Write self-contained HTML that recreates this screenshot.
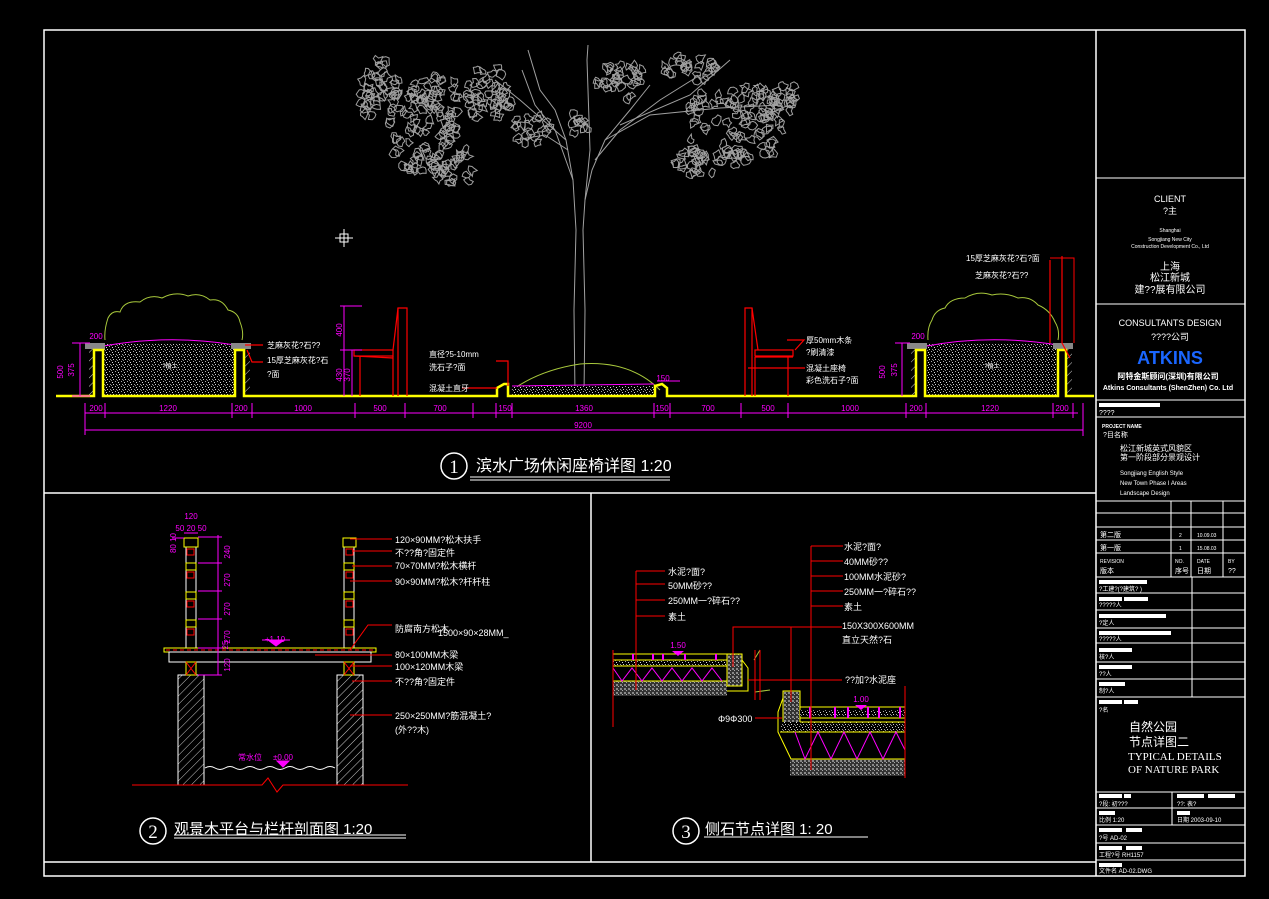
<!DOCTYPE html>
<html><head><meta charset="utf-8">
<style>
html,body{margin:0;padding:0;background:#000;}
svg{display:block}
text{font-family:"Liberation Sans","Noto Sans CJK SC",sans-serif;}
.w{fill:#fff}.m{fill:#ff00ff}
.s{font-family:"Liberation Serif","Noto Serif CJK SC",serif}
</style></head><body>
<svg id="s" width="1269" height="899" viewBox="0 0 1269 899" xmlns="http://www.w3.org/2000/svg">
<defs>
<pattern id="grav" width="6" height="5" patternUnits="userSpaceOnUse">
<rect width="6" height="5" fill="#000"/>
<rect x="1" y="1" width="1" height="1" fill="#aaa"/><rect x="4" y="2" width="1" height="1" fill="#ddd"/>
<rect x="2" y="4" width="1" height="1" fill="#999"/><rect x="5" y="4" width="1" height="1" fill="#ccc"/>
<rect x="3" y="0" width="1" height="1" fill="#888"/>
</pattern>
<pattern id="hat" width="6" height="6" patternUnits="userSpaceOnUse" patternTransform="rotate(45)">
<rect width="6" height="6" fill="#000"/><line x1="0" y1="0" x2="0" y2="6" stroke="#ccc" stroke-width="1"/>
</pattern>
<pattern id="dens" width="4" height="4" patternUnits="userSpaceOnUse">
<rect width="4" height="4" fill="#333"/><rect x="0" y="0" width="2" height="2" fill="#888"/><rect x="2" y="2" width="1" height="1" fill="#aaa"/>
</pattern>
</defs>
<rect width="1269" height="899" fill="#000"/>
<g fill="none" stroke="#fff" stroke-width="1.5">
<rect x="44" y="30" width="1201" height="846"/>
<line x1="1096" y1="30" x2="1096" y2="876"/>
<line x1="44" y1="493" x2="1096" y2="493"/>
<line x1="591" y1="493" x2="591" y2="862"/>
<line x1="44" y1="862" x2="1096" y2="862"/>
</g>
<g stroke="#fff" stroke-width="1" fill="none">
<line x1="1096" y1="178" x2="1245" y2="178"/><line x1="1096" y1="304" x2="1245" y2="304"/>
<line x1="1096" y1="400" x2="1245" y2="400"/><line x1="1096" y1="417" x2="1245" y2="417"/>
<line x1="1096" y1="501" x2="1245" y2="501"/><line x1="1096" y1="513" x2="1245" y2="513"/>
<line x1="1096" y1="527" x2="1245" y2="527"/><line x1="1096" y1="540" x2="1245" y2="540"/>
<line x1="1096" y1="553" x2="1245" y2="553"/><line x1="1096" y1="577" x2="1245" y2="577"/>
<line x1="1096" y1="593" x2="1245" y2="593"/><line x1="1096" y1="610" x2="1245" y2="610"/>
<line x1="1096" y1="628" x2="1245" y2="628"/><line x1="1096" y1="643" x2="1245" y2="643"/>
<line x1="1096" y1="662" x2="1245" y2="662"/><line x1="1096" y1="679" x2="1245" y2="679"/>
<line x1="1096" y1="697" x2="1245" y2="697"/><line x1="1096" y1="792" x2="1245" y2="792"/>
<line x1="1096" y1="808" x2="1245" y2="808"/><line x1="1096" y1="825" x2="1245" y2="825"/>
<line x1="1096" y1="843" x2="1245" y2="843"/><line x1="1096" y1="860" x2="1245" y2="860"/>
<line x1="1171" y1="501" x2="1171" y2="577"/><line x1="1191" y1="501" x2="1191" y2="577"/>
<line x1="1223" y1="501" x2="1223" y2="577"/><line x1="1192" y1="577" x2="1192" y2="697"/>
<line x1="1172" y1="792" x2="1172" y2="825"/>
</g>
<g class="w" text-anchor="middle">
<text x="1170" y="202" font-size="9">CLIENT</text>
<text x="1170" y="214" font-size="9">?主</text>
<text x="1170" y="232" font-size="5">Shanghai</text>
<text x="1170" y="241" font-size="5">Songjiang New City</text>
<text x="1170" y="248" font-size="5">Construction Development Co., Ltd</text>
<text x="1170" y="270" font-size="10">上海</text>
<text x="1170" y="281" font-size="10">松江新城</text>
<text x="1170" y="293" font-size="10">建??展有限公司</text>
<text x="1170" y="326" font-size="9">CONSULTANTS DESIGN</text>
<text x="1170" y="340" font-size="9">????公司</text>
<text x="1170" y="364" font-size="18" font-weight="bold" style="fill:#1a66ff">ATKINS</text>
<text x="1168" y="379" font-size="8" font-weight="bold">阿特金斯顾问(深圳)有限公司</text>
<text x="1168" y="390" font-size="7" font-weight="bold">Atkins Consultants (ShenZhen) Co. Ltd</text>
</g>
<g class="w">
<rect x="1099" y="403" width="61" height="4"/>
<text x="1099" y="415" font-size="7">????</text>
<text x="1102" y="428" font-size="5" font-weight="bold">PROJECT NAME</text>
<text x="1103" y="437" font-size="7">?目名称</text>
<text x="1120" y="451" font-size="8">松江新城英式风貌区</text>
<text x="1120" y="460" font-size="8">第一阶段部分景观设计</text>
<text x="1120" y="475" font-size="6">Songjiang English Style</text>
<text x="1120" y="485" font-size="6">New Town Phase I Areas</text>
<text x="1120" y="495" font-size="6">Landscape Design</text>
<text x="1100" y="537" font-size="7">第二版</text><text x="1179" y="537" font-size="5">2</text><text x="1197" y="537" font-size="5">10.09.03</text>
<text x="1100" y="550" font-size="7">第一版</text><text x="1179" y="550" font-size="5">1</text><text x="1197" y="550" font-size="5">15.08.03</text>
<text x="1100" y="563" font-size="5">REVISION</text><text x="1100" y="573" font-size="7">版本</text>
<text x="1175" y="563" font-size="5">NO.</text><text x="1175" y="573" font-size="7">序号</text>
<text x="1197" y="563" font-size="5">DATE</text><text x="1197" y="573" font-size="7">日期</text>
<text x="1228" y="563" font-size="5">BY</text><text x="1228" y="573" font-size="7">??</text>
<rect x="1099" y="580" width="48" height="4"/><text x="1099" y="591" font-size="6">?工建?(?建筑?    )</text>
<rect x="1099" y="597" width="23" height="4"/><rect x="1124" y="597" width="24" height="4"/><text x="1099" y="607" font-size="6">?????人</text>
<rect x="1099" y="614" width="67" height="4"/><text x="1099" y="625" font-size="6">?定人</text>
<rect x="1099" y="631" width="72" height="4"/><text x="1099" y="641" font-size="6">?????人</text>
<rect x="1099" y="648" width="33" height="4"/><text x="1099" y="659" font-size="6">核?人</text>
<rect x="1099" y="665" width="33" height="4"/><text x="1099" y="676" font-size="6">??人</text>
<rect x="1099" y="682" width="26" height="4"/><text x="1099" y="693" font-size="6">制?人</text>
<rect x="1099" y="700" width="23" height="4"/><rect x="1124" y="700" width="14" height="4"/><text x="1099" y="712" font-size="6">?名</text>
<text x="1129" y="731" font-size="12">自然公园</text>
<text x="1129" y="746" font-size="12">节点详图二</text>
<text x="1128" y="760" font-size="11" class="s">TYPICAL DETAILS</text>
<text x="1128" y="773" font-size="11" class="s">OF NATURE PARK</text>
<rect x="1099" y="794" width="23" height="4"/><rect x="1124" y="794" width="7" height="4"/><text x="1099" y="806" font-size="6">?段:  初???</text>
<rect x="1177" y="794" width="27" height="4"/><rect x="1208" y="794" width="27" height="4"/><text x="1177" y="806" font-size="6">??:      表?</text>
<rect x="1099" y="811" width="16" height="4"/><text x="1099" y="822" font-size="6">比例   1:20</text>
<rect x="1177" y="811" width="13" height="4"/><text x="1177" y="822" font-size="6">日期     2003-09-10</text>
<rect x="1099" y="828" width="23" height="4"/><rect x="1126" y="828" width="16" height="4"/><text x="1099" y="840" font-size="6">?号                AD-02</text>
<rect x="1099" y="846" width="23" height="4"/><rect x="1126" y="846" width="16" height="4"/><text x="1099" y="857" font-size="6">工程?号          RH1157</text>
<rect x="1099" y="863" width="23" height="4"/><text x="1099" y="873" font-size="6">文件名          AD-02.DWG</text>
</g>

<!-- ============ SECTION 1 ============ -->
<g id="tree" stroke="#a0a0a0" stroke-width="1" fill="none">
<path d="M575 395 L574 310 L576 230 L573 180 L566 140 L555 110 L540 90 L528 50"/>
<path d="M584 395 L585 310 L583 230 L585 200 L592 170 L605 140 L630 110 L650 85"/>
<path d="M573 180 L555 130 L535 105 L522 70"/><path d="M566 140 L520 100 L495 80"/>
<path d="M585 200 L590 150 L587 60 L588 45"/><path d="M595 160 L620 130 L660 100 L700 75"/>
<path d="M605 140 L650 115 L720 108 L780 105"/><path d="M620 125 L690 95 L730 60"/>
<path d="M568 150 L545 135 L515 140"/>
</g>
<g id="leaves" stroke="#a0a0a0" stroke-width="1" fill="none"></g>
<path d="M512 390 Q540 370 580 364 Q630 360 660 390" fill="none" stroke="#a8c83c" stroke-width="1"/>
<rect x="512" y="386" width="142" height="9" fill="url(#grav)"/>
<line x1="512" y1="386" x2="654" y2="384" stroke="#f0f" stroke-width="1"/>
<g>
<path d="M105 340 Q104 330 108 318 Q112 310 120 312 Q124 300 140 302 Q150 294 162 298 Q175 291 188 296 Q200 292 210 300 Q222 298 228 310 Q238 312 240 322 Q244 332 242 340" fill="none" stroke="#a8c83c" stroke-width="1"/>
<path d="M928 340 Q927 328 932 320 Q935 310 945 308 Q950 298 965 298 Q978 290 992 295 Q1005 292 1018 298 Q1030 296 1038 305 Q1050 310 1055 322 Q1060 330 1058 340" fill="none" stroke="#a8c83c" stroke-width="1"/>
<rect x="104" y="344" width="131" height="51" fill="url(#grav)"/>
<path d="M104 346 Q170 334 235 345" stroke="#f0f" fill="none"/>
<rect x="927" y="344" width="131" height="51" fill="url(#grav)"/>
<path d="M927 346 Q990 334 1058 345" stroke="#f0f" fill="none"/>
<text x="170" y="368" class="w" font-size="6" text-anchor="middle">?植土</text>
<text x="992" y="368" class="w" font-size="6" text-anchor="middle">?植土</text>
<rect x="85" y="343" width="20" height="6" fill="#888"/><rect x="89" y="349" width="5" height="46" fill="url(#hat)"/>
<rect x="231" y="343" width="20" height="6" fill="#888"/><rect x="245" y="349" width="5" height="46" fill="url(#hat)"/>
<rect x="907" y="343" width="20" height="6" fill="#888"/><rect x="911" y="349" width="5" height="46" fill="url(#hat)"/>
<rect x="1053" y="343" width="20" height="6" fill="#888"/><rect x="1067" y="349" width="5" height="46" fill="url(#hat)"/>
</g>
<path d="M56 396 H94 V350 H103 V396 H235 V350 H244 V396 H497 V388 L504 384 H508 V396 H655 V386 L662 384 L667 388 V396 H916 V350 H925 V396 H1058 V350 H1066 V396 H1094" fill="none" stroke="#ffff00" stroke-width="2.5"/>
<g stroke="#ff0000" stroke-width="1.2" fill="none">
<path d="M398 396 V308 H407 V396"/><line x1="398" y1="308" x2="393" y2="350"/>
<rect x="354" y="350" width="39" height="6"/><line x1="354" y1="356" x2="393" y2="358"/>
<line x1="360" y1="356" x2="360" y2="396"/><line x1="393" y1="356" x2="393" y2="396"/>
<path d="M745 396 V308 H752 V396"/><line x1="752" y1="308" x2="758" y2="350"/>
<rect x="755" y="350" width="38" height="6"/><line x1="755" y1="357" x2="793" y2="357"/>
<line x1="755" y1="357" x2="755" y2="396"/><line x1="788" y1="357" x2="788" y2="396"/>
<path d="M496 361 H508 V386"/><path d="M462 388 H497"/>
<path d="M787 340 H804 L795 350"/><path d="M748 368 H805"/>
<path d="M263 345 H245"/><path d="M263 362 H252 L247 350"/>
<path d="M1050 260 V343 M1062 256 V343 L1070 358"/>
</g>
<g stroke="#ff00ff" stroke-width="1" fill="none">
<line x1="85" y1="413" x2="1078" y2="413"/><line x1="85" y1="430" x2="1083" y2="430"/>
<line x1="85" y1="403" x2="85" y2="435"/><line x1="105" y1="403" x2="105" y2="418"/>
<line x1="232" y1="403" x2="232" y2="418"/><line x1="252" y1="403" x2="252" y2="418"/>
<line x1="355" y1="403" x2="355" y2="418"/><line x1="405" y1="403" x2="405" y2="418"/>
<line x1="473" y1="403" x2="473" y2="418"/><line x1="496" y1="403" x2="496" y2="418"/>
<line x1="512" y1="403" x2="512" y2="418"/><line x1="654" y1="403" x2="654" y2="418"/>
<line x1="670" y1="403" x2="670" y2="418"/><line x1="741" y1="403" x2="741" y2="418"/>
<line x1="788" y1="403" x2="788" y2="418"/><line x1="906" y1="403" x2="906" y2="418"/>
<line x1="926" y1="403" x2="926" y2="418"/><line x1="1053" y1="403" x2="1053" y2="418"/>
<line x1="1073" y1="403" x2="1073" y2="418"/><line x1="1083" y1="403" x2="1083" y2="436"/>
<line x1="80" y1="343" x2="80" y2="396"/><line x1="72" y1="343" x2="90" y2="343"/><line x1="72" y1="396" x2="90" y2="396"/>
<line x1="902" y1="343" x2="902" y2="396"/><line x1="895" y1="343" x2="910" y2="343"/>
<line x1="344" y1="306" x2="344" y2="396"/><line x1="340" y1="306" x2="362" y2="306"/><line x1="340" y1="350" x2="362" y2="350"/>
<line x1="352" y1="350" x2="352" y2="396"/>
<line x1="657" y1="381" x2="680" y2="381"/>
</g>
<g class="m" font-size="8" text-anchor="middle">
<text x="96" y="411">200</text><text x="168" y="411">1220</text><text x="241" y="411">200</text>
<text x="303" y="411">1000</text><text x="380" y="411">500</text><text x="440" y="411">700</text>
<text x="505" y="411">150</text><text x="584" y="411">1360</text><text x="662" y="411">150</text>
<text x="708" y="411">700</text><text x="768" y="411">500</text><text x="850" y="411">1000</text>
<text x="916" y="411">200</text><text x="990" y="411">1220</text><text x="1062" y="411">200</text>
<text x="583" y="428">9200</text>
<text x="96" y="339">200</text><text x="918" y="339">200</text><text x="663" y="381">150</text>
<text transform="translate(63,372) rotate(-90)">500</text>
<text transform="translate(74,370) rotate(-90)">375</text>
<text transform="translate(885,372) rotate(-90)">500</text>
<text transform="translate(897,370) rotate(-90)">375</text>
<text transform="translate(342,330) rotate(-90)">400</text>
<text transform="translate(342,375) rotate(-90)">430</text>
<text transform="translate(350,375) rotate(-90)">370</text>
</g>
<g class="w" font-size="8">
<text x="267" y="348">芝麻灰花?石??</text>
<text x="267" y="363">15厚芝麻灰花?石</text><text x="267" y="377">?面</text>
<text x="429" y="357">直径?5-10mm</text><text x="429" y="370">洗石子?面</text>
<text x="429" y="391">混凝土直牙</text>
<text x="806" y="343">厚50mm木条</text><text x="806" y="355">?刷清漆</text>
<text x="806" y="371">混凝土座椅</text><text x="806" y="383">彩色洗石子?面</text>
<text x="966" y="261">15厚芝麻灰花?石?面</text><text x="975" y="278">芝麻灰花?石??</text>
</g>
<path d="M1050 258 H1074 V343" stroke="#ff0000" fill="none"/>
<g stroke="#fff"><line x1="335" y1="238" x2="353" y2="238"/><line x1="344" y1="229" x2="344" y2="247"/><rect x="340" y="234" width="8" height="8" fill="none"/></g>
<circle cx="454" cy="466" r="13" fill="none" stroke="#fff" stroke-width="1.5"/>
<text x="454" y="473" class="w" font-size="19" text-anchor="middle" style="font-family:'Liberation Serif',serif">1</text>
<text x="476" y="471" class="w" font-size="16">滨水广场休闲座椅详图 1:20</text>
<line x1="470" y1="477" x2="670" y2="477" stroke="#fff"/><line x1="470" y1="480" x2="670" y2="480" stroke="#fff"/>

<!-- ============ SECTION 2 ============ -->
<g fill="none" stroke-width="1">
<rect x="178" y="675" width="26" height="110" fill="url(#hat)" stroke="#fff"/>
<rect x="337" y="675" width="26" height="110" fill="url(#hat)" stroke="#fff"/>
<path d="M205 768 Q210 765 215 768 T225 768 T235 768 T245 768 T255 768 T265 768 T275 768 T285 768 T295 768 T305 768 T315 768 T325 768 T335 768" stroke="#fff"/>
<path d="M132 785 H262 L268 778 L277 792 L283 785 H408" stroke="#ff0000"/>
<rect x="186" y="547" width="10" height="101" stroke="#fff"/>
<rect x="344" y="547" width="10" height="101" stroke="#fff"/>
<rect x="184" y="538" width="14" height="9" stroke="#ffff00"/>
<rect x="343" y="538" width="13" height="9" stroke="#ffff00"/>
<rect x="164" y="648" width="212" height="4" stroke="#ffff00"/>
<line x1="166" y1="650" x2="374" y2="650" stroke="#ff0000" stroke-dasharray="4 3"/>
<rect x="169" y="652" width="202" height="10" stroke="#fff"/>
<rect x="186" y="662" width="10" height="13" stroke="#ffff00"/><path d="M186 662 L196 675 M196 662 L186 675" stroke="#f00"/>
<rect x="344" y="662" width="10" height="13" stroke="#ffff00"/><path d="M344 662 L354 675 M354 662 L344 675" stroke="#f00"/>
</g>
<g stroke="#ff0000" fill="none">
<rect x="187" y="549" width="7" height="6"/><rect x="346" y="549" width="7" height="6"/>
<rect x="186" y="563" width="10" height="7" stroke="#ff0"/><rect x="187" y="572" width="7" height="6"/>
<rect x="344" y="563" width="10" height="7" stroke="#ff0"/><rect x="346" y="572" width="7" height="6"/>
<rect x="186" y="592" width="10" height="7" stroke="#ff0"/><rect x="187" y="601" width="7" height="6"/>
<rect x="344" y="592" width="10" height="7" stroke="#ff0"/><rect x="346" y="601" width="7" height="6"/>
<rect x="186" y="620" width="10" height="7" stroke="#ff0"/><rect x="187" y="629" width="7" height="6"/>
<rect x="344" y="620" width="10" height="7" stroke="#ff0"/><rect x="346" y="629" width="7" height="6"/>
<line x1="350" y1="539" x2="392" y2="539"/><line x1="352" y1="551" x2="392" y2="551"/>
<line x1="352" y1="566" x2="392" y2="566"/><line x1="350" y1="581" x2="392" y2="581"/>
<path d="M350 650 L368 625 H392"/><line x1="315" y1="655" x2="392" y2="655"/>
<line x1="350" y1="666" x2="392" y2="666"/><line x1="352" y1="681" x2="392" y2="681"/>
<line x1="350" y1="715" x2="392" y2="715"/>
</g>
<g class="w" font-size="9">
<text x="395" y="543">120×90MM?松木扶手</text><text x="395" y="556">不??角?固定件</text>
<text x="395" y="569">70×70MM?松木横杆</text><text x="395" y="585">90×90MM?松木?杆杆柱</text>
<text x="395" y="632">防腐南方松木</text><text x="438" y="636">1500×90×28MM_</text>
<text x="395" y="658">80×100MM木梁</text><text x="395" y="670">100×120MM木梁</text>
<text x="395" y="685">不??角?固定件</text><text x="395" y="719">250×250MM?筋混凝土?</text>
<text x="395" y="733">(外??木)</text>
</g>
<g stroke="#ff00ff" fill="none">
<line x1="218" y1="535" x2="218" y2="675"/>
<line x1="198" y1="537" x2="222" y2="537"/><line x1="198" y1="563" x2="222" y2="563"/>
<line x1="198" y1="591" x2="222" y2="591"/><line x1="198" y1="619" x2="222" y2="619"/>
<line x1="198" y1="648" x2="222" y2="648"/><line x1="198" y1="675" x2="222" y2="675"/>
<line x1="184" y1="533" x2="198" y2="533"/><line x1="172" y1="538" x2="184" y2="538"/>
<path d="M268 640 L276 646 L284 640 Z" fill="#f0f"/><line x1="262" y1="640" x2="290" y2="640"/>
<path d="M277 761 L283 767 L289 761 Z" fill="#f0f"/>
</g>
<g class="m" font-size="8" text-anchor="middle">
<text x="191" y="519">120</text><text x="191" y="531">50 20 50</text>
<text transform="translate(230,552) rotate(-90)">240</text>
<text transform="translate(230,580) rotate(-90)">270</text>
<text transform="translate(230,609) rotate(-90)">270</text>
<text transform="translate(230,637) rotate(-90)">270</text>
<text transform="translate(230,665) rotate(-90)">120</text>
<text transform="translate(228,645) rotate(-90)">25</text>
<text transform="translate(176,543) rotate(-90)">80 10</text>
<text x="275" y="642">+1.10</text><text x="283" y="760">±0.00</text><text x="250" y="760">常水位</text>
</g>
<circle cx="153" cy="831" r="13" fill="none" stroke="#fff" stroke-width="1.5"/>
<text x="153" y="838" class="w" font-size="19" text-anchor="middle" style="font-family:'Liberation Serif',serif">2</text>
<text x="174" y="834" class="w" font-size="15">观景木平台与栏杆剖面图 1:20</text>
<line x1="174" y1="835" x2="406" y2="835" stroke="#fff"/><line x1="174" y1="838" x2="406" y2="838" stroke="#fff"/>

<!-- ============ SECTION 3 ============ -->
<g fill="none">
<rect x="613" y="660" width="114" height="6" fill="url(#grav)"/>
<rect x="613" y="681" width="114" height="15" fill="url(#dens)"/>
<path d="M613 654 H727 M613 660 H727 M613 666 H727 M613 681 H727" stroke="#ffff00"/>
<path d="M613 668 L622 681 L632 668 L642 681 L652 668 L662 681 L672 668 L682 681 L692 668 L702 681 L712 668 L722 681" stroke="#ff00ff"/>
<g stroke="#ff00ff" stroke-width="2"><line x1="633" y1="654" x2="633" y2="660"/><line x1="653" y1="654" x2="653" y2="660"/><line x1="663" y1="654" x2="663" y2="660"/><line x1="685" y1="654" x2="685" y2="660"/><line x1="716" y1="654" x2="716" y2="660"/></g>
<rect x="727" y="654" width="15" height="32" fill="url(#dens)" stroke="#ffff00"/>
<path d="M742 660 L748 668 V691 H727" stroke="#ffff00"/>
<path d="M754 660 L760 650 M755 692 L770 690" stroke="#a8c83c"/>
<path d="M755 650 V700 M760 650 V700" stroke="#f00"/>
<rect x="783" y="691" width="17" height="33" fill="url(#dens)" stroke="#ffff00"/>
<path d="M783 698 L778 712 V732 L791 759" stroke="#ffff00"/>
<rect x="800" y="710" width="105" height="6" fill="url(#grav)"/>
<rect x="780" y="722" width="125" height="10" fill="url(#grav)"/>
<rect x="790" y="759" width="115" height="17" fill="url(#dens)"/>
<path d="M800 707 H905 M800 718 H905 M800 722 H905 M780 732 H905 M791 759 H905" stroke="#ffff00"/>
<path d="M795 732 L805 759 L818 732 L831 759 L844 732 L857 759 L870 732 L883 759 L896 732 L905 750" stroke="#ff00ff"/>
<g stroke="#ff00ff" stroke-width="2"><line x1="810" y1="707" x2="810" y2="718"/><line x1="835" y1="707" x2="835" y2="718"/><line x1="848" y1="707" x2="848" y2="718"/><line x1="868" y1="707" x2="868" y2="718"/><line x1="879" y1="707" x2="879" y2="718"/><line x1="900" y1="707" x2="900" y2="718"/></g>
<line x1="905" y1="686" x2="905" y2="778" stroke="#f00"/><line x1="613" y1="650" x2="613" y2="727" stroke="#f00"/>
</g>
<g stroke="#ff0000" fill="none">
<line x1="636" y1="571" x2="636" y2="690"/>
<line x1="636" y1="571" x2="665" y2="571"/><line x1="636" y1="584" x2="665" y2="584"/>
<line x1="636" y1="600" x2="665" y2="600"/><line x1="636" y1="616" x2="665" y2="616"/>
<line x1="811" y1="546" x2="811" y2="770"/>
<line x1="811" y1="546" x2="843" y2="546"/><line x1="811" y1="561" x2="843" y2="561"/>
<line x1="811" y1="576" x2="843" y2="576"/><line x1="811" y1="591" x2="843" y2="591"/>
<line x1="811" y1="606" x2="843" y2="606"/>
<path d="M733 667 V627 H842"/><path d="M791 702 V627"/>
<line x1="748" y1="680" x2="842" y2="680"/><line x1="755" y1="718" x2="782" y2="718"/>
</g>
<g class="w" font-size="9">
<text x="668" y="575">水泥?面?</text><text x="668" y="589">50MM砂??</text>
<text x="668" y="604">250MM一?碎石??</text><text x="668" y="620">素土</text>
<text x="844" y="550">水泥?面?</text><text x="844" y="565">40MM砂??</text>
<text x="844" y="580">100MM水泥砂?</text><text x="844" y="595">250MM一?碎石??</text>
<text x="844" y="610">素土</text><text x="842" y="629">150X300X600MM</text>
<text x="842" y="643">直立天然?石</text><text x="845" y="683">??加?水泥座</text>
<text x="718" y="722">Φ9Φ300</text>
</g>
<g class="m" font-size="8" text-anchor="middle">
<text x="678" y="648">1.50</text><path d="M672 651 L678 656 L684 651Z"/>
<text x="861" y="702">1.00</text><path d="M855 705 L861 710 L867 705Z"/>
</g>
<circle cx="686" cy="831" r="13" fill="none" stroke="#fff" stroke-width="1.5"/>
<text x="686" y="838" class="w" font-size="19" text-anchor="middle" style="font-family:'Liberation Serif',serif">3</text>
<text x="705" y="834" class="w" font-size="15">侧石节点详图    1: 20</text>
<line x1="704" y1="837" x2="868" y2="837" stroke="#fff"/>
</svg>
<script>
(function(){
var g=document.getElementById('leaves');var seed=11;
function r(){seed=(seed*16807)%2147483647;return seed/2147483647;}
var C=[[380,95,20,35,45],[440,105,45,30,70],[430,150,40,25,45],[492,90,22,30,35],[528,130,22,16,18],[578,125,12,12,10],[622,80,25,20,30],[690,68,30,14,25],[735,125,50,45,90],[775,100,22,22,25],[455,172,22,12,16],[700,160,30,15,20]];
var s='';
C.forEach(function(c){for(var i=0;i<c[4];i++){var a=r()*6.283,d=Math.sqrt(r());var x=c[0]+Math.cos(a)*c[2]*d,y=c[1]+Math.sin(a)*c[3]*d;var n=9,p='';for(var k=0;k<n;k++){var t=k/n*6.283,rr=2+r()*4;p+=(k?'L':'M')+(x+Math.cos(t)*rr).toFixed(1)+' '+(y+Math.sin(t)*rr).toFixed(1);}s+=p+'Z ';}});
var e=document.createElementNS('http://www.w3.org/2000/svg','path');e.setAttribute('d',s);g.appendChild(e);
})();
</script>
</body></html>
